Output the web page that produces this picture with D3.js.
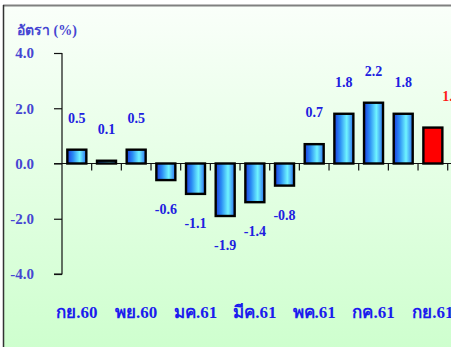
<!DOCTYPE html>
<html><head><meta charset="utf-8">
<script src="https://cdn.jsdelivr.net/npm/d3@7"></script>
<style>html,body{margin:0;padding:0;background:#fff;overflow:hidden}</style>
</head><body>
<svg id="c" width="451" height="347"></svg>
<script>
const categories = ["กย.60","ตค.60","พย.60","ธค.60","มค.61","กพ.61","มีค.61","เมย.61","พค.61","มิย.61","กค.61","สค.61","กย.61"];
const values = [0.5, 0.1, 0.5, -0.6, -1.1, -1.9, -1.4, -0.8, 0.7, 1.8, 2.2, 1.8, 1.3];
const highlight = [false,false,false,false,false,false,false,false,false,false,false,false,true];
const yTicks = [4, 2, 0, -2, -4];
const shownCategories = ["กย.60","พย.60","มค.61","มีค.61","พค.61","กค.61","กย.61"];
const yTitle = "อัตรา (%)";

const fmt = v => (v < 0 ? "-" : "") + Math.abs(v).toFixed(1);

const svg = d3.select("#c");
const defs = svg.append("defs");
const bg = defs.append("linearGradient").attr("id","bg").attr("x1",0).attr("y1",0).attr("x2",0).attr("y2",1);
bg.append("stop").attr("offset","0%").attr("stop-color","#fafffa");
bg.append("stop").attr("offset","100%").attr("stop-color","#ccffcc");
const bar = defs.append("linearGradient").attr("id","bar").attr("x1",0).attr("y1",0).attr("x2",1).attr("y2",0);
bar.append("stop").attr("offset","0%").attr("stop-color","#1c3ce0");
bar.append("stop").attr("offset","30%").attr("stop-color","#2a8cf4");
bar.append("stop").attr("offset","65%").attr("stop-color","#6ff4ff");
bar.append("stop").attr("offset","100%").attr("stop-color","#2a70f0");

svg.append("rect").attr("x",3).attr("y",5).attr("width",460).attr("height",360).attr("fill","url(#bg)");
svg.append("line").attr("x1",3).attr("x2",451).attr("y1",5.5).attr("y2",5.5).attr("stroke","#808080").attr("stroke-width",2);
svg.append("line").attr("x1",3.5).attr("x2",3.5).attr("y1",5).attr("y2",347).attr("stroke","#333").attr("stroke-width",1.5);

const y = d3.scaleLinear().domain([-4,4]).range([274,53]);
const step = 29.67;
const x = d3.scaleBand().domain(categories).range([62, 62 + step*categories.length]).paddingInner(0.36).paddingOuter(0.18);

const font = "'Liberation Serif','Times New Roman',serif";

// y axis
const yAxis = svg.append("g").attr("transform","translate(62,0)")
  .call(d3.axisLeft(y).tickValues(yTicks).tickSize(8).tickPadding(20).tickFormat(fmt));
yAxis.select(".domain").attr("stroke","#111").attr("stroke-width",1.2).attr("d","M-0,53V274H-8");
yAxis.selectAll(".tick line").attr("stroke","#111").attr("stroke-width",1.2);
yAxis.selectAll(".tick text").attr("fill","#4646d2").attr("font-family",font).attr("font-weight","bold").attr("font-size","15px").attr("x",-28);

// zero line with ticks
const x0 = y(0);
svg.append("line").attr("x1",54).attr("x2",451).attr("y1",x0).attr("y2",x0).attr("stroke","#111").attr("stroke-width",1.2);
const bounds = d3.range(1, categories.length+1).map(i => 62 + step*i);
svg.selectAll(".xt").data(bounds).join("line").attr("class","xt")
  .attr("x1",d=>d).attr("x2",d=>d).attr("y1",x0).attr("y2",x0+7).attr("stroke","#111").attr("stroke-width",1.2);

// bars
svg.selectAll(".bar").data(values).join("rect").attr("class","bar")
  .attr("x",(d,i)=>x(categories[i]))
  .attr("width",x.bandwidth())
  .attr("y",d=>y(Math.max(0,d)))
  .attr("height",d=>Math.abs(y(d)-y(0)))
  .attr("fill",(d,i)=>highlight[i] ? "#ff0000" : "url(#bar)")
  .attr("stroke","#000").attr("stroke-width",2.4);

// value labels
svg.selectAll(".vl").data(values).join("text").attr("class","vl")
  .attr("x",(d,i)=> highlight[i] ? x(categories[i]) + x.bandwidth() : x(categories[i]) + x.bandwidth()/2)
  .attr("y",d=> d>=0 ? y(d) - 27 : y(d) + 34)
  .attr("text-anchor",(d,i)=> highlight[i] ? "start" : "middle")
  .attr("fill",(d,i)=> highlight[i] ? "#ff1a1a" : "#2020e0")
  .attr("font-family",font).attr("font-weight","bold").attr("font-size","14px")
  .text(fmt);

// category labels
svg.selectAll(".cl").data(shownCategories).join("text").attr("class","cl")
  .attr("x",d=>x(d)+x.bandwidth()/2).attr("y",318)
  .attr("text-anchor","middle").attr("fill","#1c1cee")
  .attr("font-family",font).attr("font-weight","bold").attr("font-size","17px")
  .text(d=>d);

// title
svg.append("text").attr("x",17).attr("y",35).attr("fill","#4646d2")
  .attr("font-family",font).attr("font-weight","bold").attr("font-size","14px").text(yTitle);
</script>
</body></html>
